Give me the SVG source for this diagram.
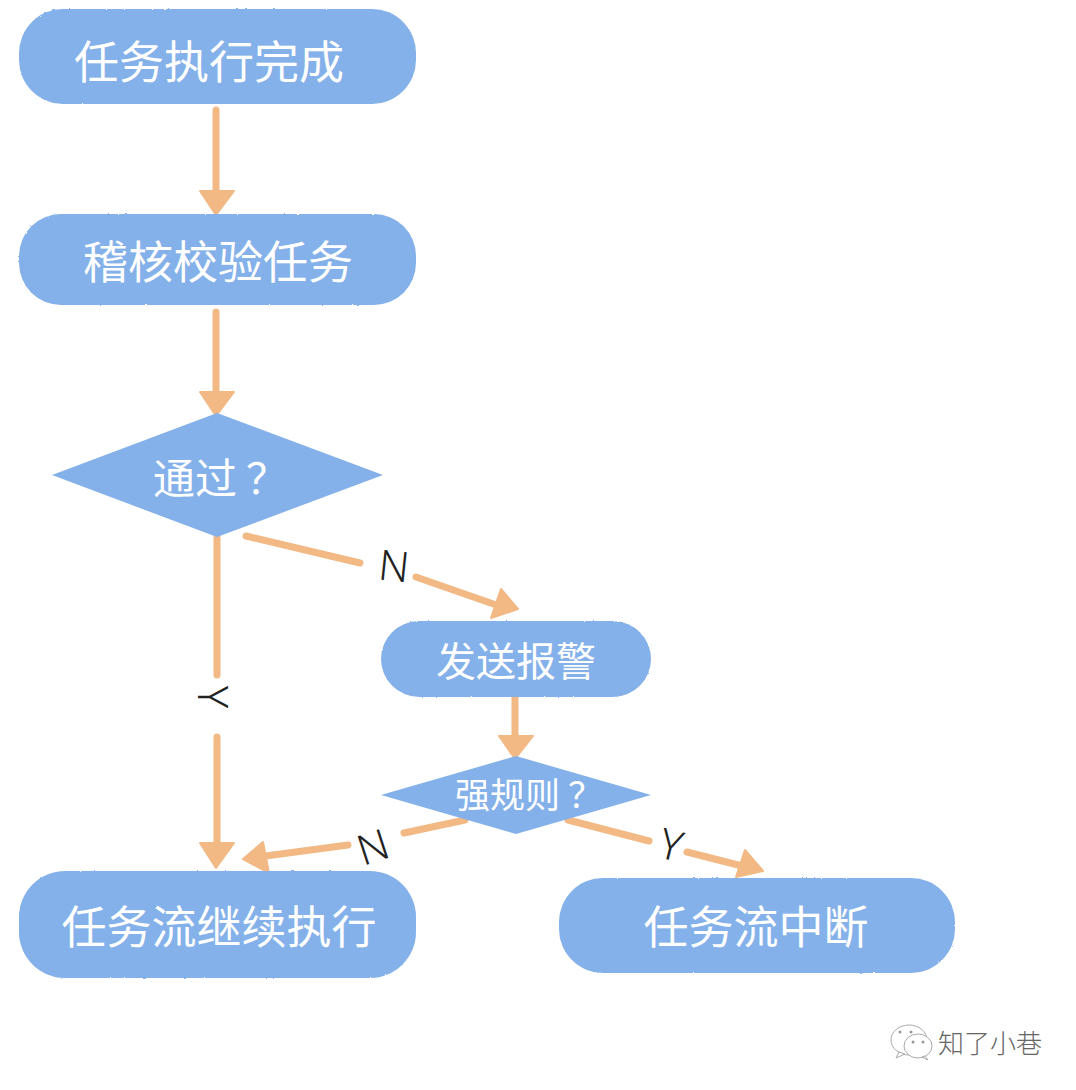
<svg xmlns="http://www.w3.org/2000/svg" width="1076" height="1090" viewBox="0 0 1076 1090">
<style>
.n{fill:#84B1E9}
.t{fill:#fff;font-family:"Noto Sans CJK SC","Noto Sans",sans-serif;font-weight:400}
.m{text-anchor:middle}
.c{fill:none;stroke:#F2B985;stroke-width:7;stroke-linecap:round;stroke-linejoin:round}
.h{fill:#F2B985;stroke:#F2B985;stroke-width:2;stroke-linejoin:round}
.l{fill:#222;font-family:"Noto Sans","DejaVu Sans",sans-serif;font-size:42px;font-weight:300;text-anchor:middle}
.w{fill:#fff;stroke:#aaa;stroke-width:1}
.wt{fill:#666;font-family:"Noto Sans CJK SC",sans-serif;font-size:26px;font-weight:300}
</style>
<defs>
<filter id="rough" x="-3%" y="-6%" width="106%" height="112%">
<feTurbulence type="fractalNoise" baseFrequency="0.25 0.25" numOctaves="2" seed="4"/>
<feDisplacementMap in="SourceGraphic" scale="2"/>
</filter>
</defs>
<rect width="1076" height="1090" fill="#fff"/>
<g id="connectors">
<path class="c" d="M216 110V196"/><polygon class="h" points="200,191 234,191 216,215"/>
<path class="c" d="M216 312V396"/><polygon class="h" points="200,392 234,392 216,416"/>
<path class="c" d="M217 536V675"/>
<path class="c" d="M217 737V848"/><polygon class="h" points="200,843 234,843 216,868"/>
<path class="c" d="M246 536L360 563"/>
<path class="c" d="M416 577L502 607"/><polygon class="h" points="501,589 518,609 491,618"/>
<path class="c" d="M515 695V738"/><polygon class="h" points="499,736 533,736 515,759"/>
<path class="c" d="M465 820L404 833"/>
<path class="c" d="M348 845L258 857"/><polygon class="h" points="263,842 243,859 269,873"/>
<path class="c" d="M568 820L649 841"/>
<path class="c" d="M687 852L750 868"/><polygon class="h" points="745,850 763,871 736,877"/>
</g>
<g id="node-done">
<rect class="n" x="19" y="9" width="397" height="95" rx="44" filter="url(#rough)"/>
<text class="t m" x="209" y="79" font-size="45">任务执行完成</text>
</g>
<g id="node-audit">
<rect class="n" x="19" y="214" width="397" height="91" rx="42" filter="url(#rough)"/>
<text class="t m" x="218" y="279" font-size="45">稽核校验任务</text>
</g>
<g id="node-pass">
<polygon class="n" points="217,413 383,475 217,537 52,475"/>
<text class="t" x="153" y="494" font-size="42">通过<tspan x="246">？</tspan></text>
</g>
<g id="node-alert">
<rect class="n" x="381" y="621" width="270" height="76" rx="38" filter="url(#rough)"/>
<text class="t m" x="516" y="676" font-size="40">发送报警</text>
</g>
<g id="node-strong">
<polygon class="n" points="516,756 651,795 516,834 381,795"/>
<text class="t" x="455" y="808" font-size="35">强规则<tspan x="568">？</tspan></text>
</g>
<g id="node-continue">
<rect class="n" x="19" y="871" width="397" height="107" rx="46" filter="url(#rough)"/>
<text class="t m" x="219" y="944" font-size="45">任务流继续执行</text>
</g>
<g id="node-stop">
<rect class="n" x="559" y="878" width="396" height="95" rx="44" filter="url(#rough)"/>
<text class="t m" x="756" y="944" font-size="45">任务流中断</text>
</g>
<g id="labels">
<text class="l" transform="translate(394 566) rotate(6)" y="15">N</text>
<text class="l" transform="translate(213 697) rotate(90)" y="15">Y</text>
<text class="l" transform="translate(373 847) rotate(-18)" y="15">N</text>
<text class="l" transform="translate(671 845) rotate(14)" y="15">Y</text>
</g>
<g id="watermark">
<ellipse class="w" cx="909" cy="1040" rx="18" ry="15"/>
<path class="w" d="M899 1052L896 1058L905 1054Z"/>
<ellipse class="w" cx="918" cy="1046" rx="14" ry="12"/>
<path class="w" d="M925 1056L928 1060L922 1057Z"/>
<circle cx="900" cy="1032" r="1.5" fill="#999"/><circle cx="911" cy="1032" r="1.5" fill="#999"/>
<circle cx="913" cy="1042" r="1.5" fill="#999"/><circle cx="923" cy="1042" r="1.5" fill="#999"/>
<text class="wt" x="938" y="1053">知了小巷</text>
</g>
</svg>
